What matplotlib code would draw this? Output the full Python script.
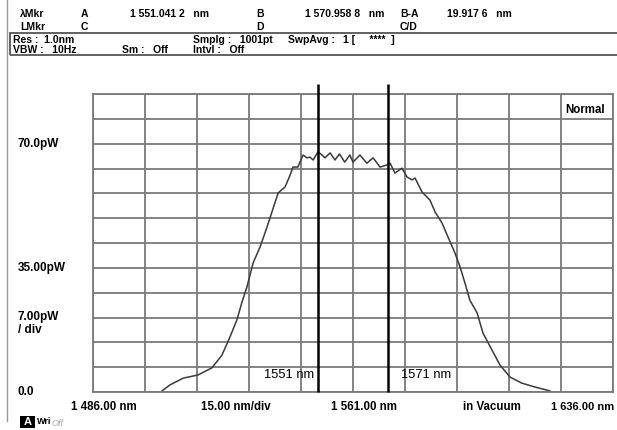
import matplotlib.pyplot as plt
import numpy as np
from matplotlib import transforms
from matplotlib.lines import Line2D
from matplotlib.patches import Rectangle

plt.rcParams['font.family'] = ['Liberation Sans', 'DejaVu Sans']

# spectrum (nm, pW)
wavelength = [1505.9, 1508.2, 1512.0, 1516.3, 1520.3, 1523.2, 1525.5, 1527.5, 1529.0,
              1530.4, 1532.2, 1534.2, 1536.2, 1537.6, 1539.4, 1541.4, 1542.8, 1543.7,
              1545.1, 1545.7, 1546.6, 1547.7, 1548.6, 1549.5, 1550.9, 1552.1, 1552.9,
              1554.4, 1555.8, 1557.1, 1558.6, 1560.1, 1561.0, 1563.0, 1565.0, 1566.8,
              1568.8, 1570.8, 1571.7, 1573.1, 1575.1, 1576.6, 1578.0, 1578.9, 1580.9,
              1583.2, 1584.7, 1586.7, 1588.4, 1590.4, 1591.9, 1593.3, 1594.7, 1596.8,
              1598.5, 1601.1, 1603.4, 1606.3, 1609.7, 1613.5, 1617.8]
power = [0.3, 2.0, 3.9, 4.8, 6.8, 10.4, 15.5, 20.3, 25.4,
         29.6, 36.4, 40.9, 46.5, 50.7, 56.1, 57.8, 61.0, 63.4,
         63.4, 64.8, 66.8, 66.0, 66.2, 65.4, 67.7, 66.8, 66.0,
         67.4, 65.4, 67.1, 64.8, 66.8, 64.8, 66.8, 64.5, 66.0,
         63.4, 64.0, 64.5, 61.7, 63.1, 60.6, 59.8, 60.3, 56.4,
         54.1, 50.7, 47.6, 43.7, 39.2, 35.2, 30.7, 25.9, 22.3,
         16.6, 11.8, 7.6, 4.2, 2.5, 1.4, 0.3]
markers = [1551.0412, 1570.9588]
marker_labels = ['1551 nm', '1571 nm']
x_start, x_stop, x_div = 1486.0, 1636.0, 15.0
y_div = 7.0

W, H = 617, 430
fig = plt.figure(figsize=(W / 100, H / 100), dpi=100)
ax = fig.add_axes([93 / W, 1 - 392 / H, 520 / W, 298 / H])

def ftext(x, y, s, **kw):
    kw.setdefault('fontsize', 7.5)
    kw.setdefault('fontweight', 'bold')
    kw.setdefault('va', 'center')
    fig.text(x / W, 1 - y / H, s, **kw)

grid_c = '#7a7a7a'
ax.set_xlim(x_start, x_stop)
ax.set_ylim(0, 12 * y_div)
ax.set_xticks(np.arange(x_start, x_stop + 1, x_div))
ax.set_yticks(np.arange(0, 12 * y_div + 1, y_div))
ax.tick_params(length=0, labelbottom=False, labelleft=False)
ax.grid(True, color=grid_c, linewidth=1.3)
for s in ax.spines.values():
    s.set_color(grid_c)
    s.set_linewidth(1.3)

ax.plot(wavelength, power, color='#3a3a3a', linewidth=1.1)
ax.vlines(markers, 0, 12 * y_div * 1.035, colors='black', linewidth=1.8, clip_on=False, zorder=5)
ax.text(markers[0] - 1.3, 4.8, marker_labels[0], ha='right', va='center', fontsize=9.3)
ax.text(markers[1] + 4.0, 4.8, marker_labels[1], ha='left', va='center', fontsize=9.3)
ax.text(0.985, 0.965, 'Normal', transform=ax.transAxes, ha='right', va='top',
        fontsize=8.3, fontweight='bold')

# y labels at the left
bt = transforms.blended_transform_factory(fig.transFigure, ax.transData)
ylab = dict(transform=bt, fontsize=8.5, fontweight='bold')
ax.text(18 / W, 10 * y_div, '70.0pW', va='center', **ylab)
ax.text(18 / W, 5 * y_div, '35.00pW', va='center', **ylab)
ax.text(18 / W, 3 * y_div + 1.8, '7.00pW\n/ div', va='top', linespacing=1.1, **ylab)
ax.text(18 / W, 0, '0.0', va='center', **ylab)

# x labels
ftext(104, 407, '1 486.00 nm', ha='center', fontsize=8.3)
ftext(236, 407, '15.00 nm/div', ha='center', fontsize=8.3)
ftext(364, 407, '1 561.00 nm', ha='center', fontsize=8.3)
ftext(492, 407, 'in Vacuum', ha='center', fontsize=8.3)
ftext(614, 407, '1 636.00 nm', ha='right', fontsize=8.0)

# marker header
ftext(20, 14, 'λMkr')
ftext(20, 27, 'LMkr')
ftext(81, 14, 'A')
ftext(81, 27, 'C')
ftext(130, 14, '1 551.041 2   nm')
ftext(256, 14, 'B')
ftext(256, 27, 'D')
ftext(305, 14, '1 570.958 8   nm')
ftext(400, 14, 'B-A')
ftext(400, 27, 'C/D')
ftext(447, 14, '19.917 6   nm')

# settings box
fig.add_artist(Rectangle((10 / W, 1 - 55 / H), 610 / W, 22 / H, transform=fig.transFigure,
                         fill=False, edgecolor='#555555', linewidth=1.3))
ftext(13, 40, 'Res :  1.0nm')
ftext(13, 50, 'VBW :   10Hz')
ftext(122, 50, 'Sm :   Off')
ftext(193, 40, 'Smplg :   1001pt')
ftext(193, 50, 'Intvl :   Off')
ftext(288, 40, 'SwpAvg :')
ftext(343, 40, '1 [     ****  ]')

# left frame line
fig.add_artist(Line2D([7 / W, 7 / W], [0.02, 1.0], transform=fig.transFigure,
                      color='#999999', linewidth=1.0))

# write status
fig.add_artist(Rectangle((20 / W, 1 - 428 / H), 15 / W, 12 / H, transform=fig.transFigure,
                         facecolor='black', edgecolor='none'))
ftext(27.5, 422, 'A', color='white', ha='center', fontsize=8)
ftext(37, 422, 'Wri', fontsize=6.5)
ftext(52, 423, 'Off', fontsize=6.5, fontweight='normal', style='italic', color='#aaaaaa')

fig.savefig('out.png', dpi=100)
